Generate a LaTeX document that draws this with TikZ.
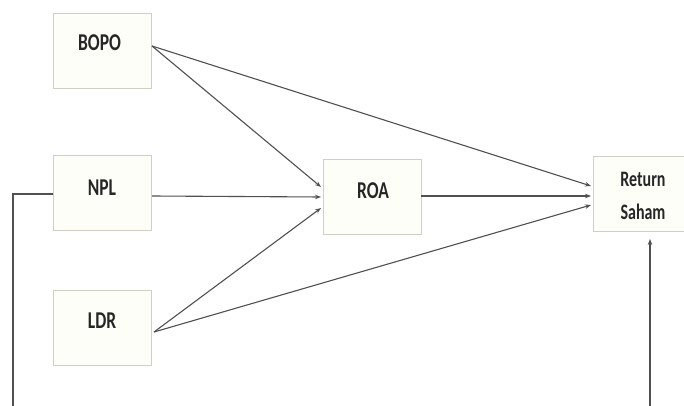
\documentclass[tikz,border=0pt]{standalone}
\usepackage{fontspec}
\setmainfont{Carlito}
\usetikzlibrary{arrows.meta}
\definecolor{boxline}{HTML}{CFCFC6}
\definecolor{boxfill}{HTML}{FEFEF9}
\definecolor{conn}{HTML}{505050}
\definecolor{txt}{HTML}{262626}
\tikzset{
  box/.style={draw=boxline, fill=boxfill, line width=0.9pt, minimum width=98pt, minimum height=75pt, inner sep=0pt},
  lbl/.style={font=\fontsize{17.5}{17.5}\selectfont\bfseries, text=txt, inner sep=0pt},
  arr/.style={draw=conn, line width=1.1pt, -{Stealth[length=6pt,width=4.5pt]}},
  ln/.style={draw=conn, line width=1.1pt}
}
\newcommand{\tall}[1]{\scalebox{1}[1.38]{#1}}
\begin{document}
\begin{tikzpicture}[x=1pt,y=-1pt]
\useasboundingbox (0,0) rectangle (684,406);
\fill[white] (0,0) rectangle (684,406);
% boxes
\node[box] (bopo) at (102,50.5) {};
\node[box] (npl) at (102.5,192.5) {};
\node[box] (ldr) at (102.5,327.5) {};
\node[box] (roa) at (372,197) {};
\node[box] (rs) at (642,193.5) {};
% labels
\node[lbl] (bopoT) at (99.5,43) {\tall{BOPO}};
\node[lbl] (nplT) at (102,188) {\tall{NPL}};
\node[lbl] (ldrT) at (102,321) {\tall{LDR}};
\node[lbl] (roaT) at (373,191) {\tall{ROA}};
\node[lbl, font=\fontsize{16}{16}\selectfont\bfseries] (rsT1) at (643,179) {\tall{Return}};
\node[lbl, font=\fontsize{16}{16}\selectfont\bfseries] (rsT2) at (643,212) {\tall{Saham}};
% ports
\coordinate (bopoOut) at (152,46);
\coordinate (nplOut) at (152,196);
\coordinate (ldrOut) at (154,332);
\coordinate (roaIn1) at (321,187);
\coordinate (roaIn2) at (321,197);
\coordinate (roaIn3) at (321,208);
\coordinate (roaOut) at (421,196);
\coordinate (rsIn1) at (591,186);
\coordinate (rsIn2) at (591,196);
\coordinate (rsIn3) at (591,205);
\coordinate (nplLeft) at (53,194);
\coordinate (loopA) at (13,194);
\coordinate (loopB) at (13,410);
\coordinate (loopC) at (650,410);
\coordinate (rsBot) at (650,239);
% connectors
\draw[arr] (bopoOut) -- (roaIn1);
\draw[arr] (bopoOut) -- (rsIn1);
\draw[arr] (nplOut) -- (roaIn2);
\draw[arr] (ldrOut) -- (roaIn3);
\draw[arr] (ldrOut) -- (rsIn3);
\draw[arr] (roaOut) -- (rsIn2);
\draw[ln] (nplLeft) -- (loopA) -- (loopB);
\draw[arr] (loopC) -- (rsBot);
\end{tikzpicture}
\end{document}
